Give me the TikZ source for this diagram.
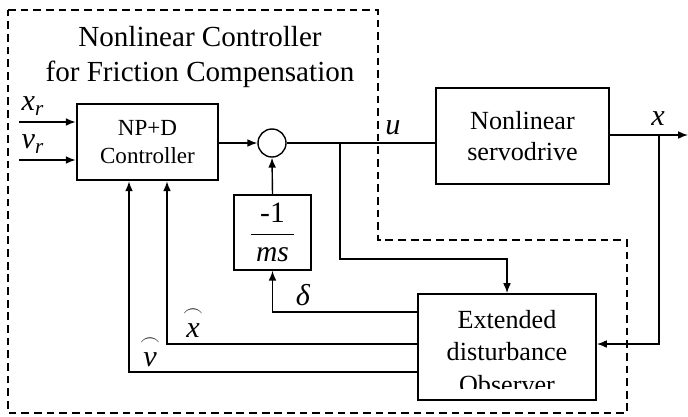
\documentclass[tikz,border=0pt]{standalone}
\usepackage{amsmath}
\usepackage{fontspec}
\setmainfont{Liberation Serif}
\usetikzlibrary{arrows.meta,calc}
\tikzset{
  blk/.style={draw, line width=1.3pt, align=center, inner sep=0pt, font=\fontsize{18.6}{22.5}\selectfont},
  lbl/.style={inner sep=1pt, font=\fontsize{21.5}{24}\selectfont},
  sig/.style={line width=1pt},
  arr/.style={sig, -{Latex[length=7pt,width=5.5pt]}},
  frame/.style={line width=1pt, dash pattern=on 5.5pt off 3.5pt}
}
\newcommand{\arcvar}[1]{\overset{\raisebox{1.5pt}{$\scriptstyle\frown$}}{\textit{#1}}}
\begin{document}
\begin{tikzpicture}[x=0.025cm, y=-0.025cm]
  \useasboundingbox (0,0) rectangle (688,416);

  % Controller boundary
  \draw[frame] (8,10) -- (378,10) -- (378,240) -- (627,240) -- (627,413) -- (8,413) -- cycle;
  \node[font=\fontsize{20.7}{24.8}\selectfont, align=center] (title) at (200,57) {Nonlinear Controller\\for Friction Compensation};

  % Blocks
  \node[blk, line width=1.8pt, minimum width=3.525cm, minimum height=1.9cm, font=\fontsize{16.4}{20}\selectfont] (ctrl) at (147.5,142) {NP+D\\Controller};
  \node[draw, sig, circle, minimum size=0.7cm, inner sep=0pt] (sum) at (272,143) {};
  \node[blk, line width=1pt, minimum width=1.925cm, minimum height=1.875cm, font=\fontsize{21}{24}\selectfont] (gain) at (272.5,232.5) {$\dfrac{\,\mbox{-1}\,}{\,\textit{ms}\,}$};
  \node[blk, minimum width=4.325cm, minimum height=2.4cm] (servo) at (522.5,136) {Nonlinear\\servodrive};
  \node[blk, minimum width=4.45cm, minimum height=2.65cm] (obs) at (507,347) {};
  \begin{scope}
    \clip (obs.north west) rectangle ($(obs.south east)+(0,-12)$);
    \node[align=center, font=\fontsize{18.6}{23}\selectfont] (obstext) at (507,352) {Extended\\disturbance\\Observer};
  \end{scope}

  % Inputs
  \coordinate (xr) at (19,122);
  \coordinate (vr) at (19,160);
  \draw[arr] (xr) -- (xr -| ctrl.west);
  \draw[arr] (vr) -- (vr -| ctrl.west);
  \node[lbl, anchor=south west] (xrlbl) at ($(xr)+(1,-5)$) {$\textit{x}_{\textit{r}}$};
  \node[lbl, anchor=south west] (vrlbl) at ($(vr)+(1,-5)$) {$\textit{v}_{\textit{r}}$};

  % Forward path
  \coordinate (ub) at (340,143);
  \coordinate (xb) at (659,135);
  \coordinate (xout) at (688,135);
  \draw[arr] (sum -| ctrl.east) -- (sum.west);
  \draw[sig] (sum.east) -- (sum.east -| servo.west);
  \draw[arr] (servo.east |- xb) -- (xout);
  \node[lbl] (ulbl) at (393,128) {\textit{u}};
  \node[lbl] (xlbl) at (658,119) {\textit{x}};

  % Feedback
  \draw[arr] (xb) |- ($(obs.east)+(0,-3)$);
  \draw[arr] (ub) |- ($(obs.north)+(0,-34)$) -- (obs.north);
  \draw[arr] (gain.north) -- (sum.south);
  \draw[arr] ($(obs.west)+(0,-35)$) -| (gain.south);
  \draw[arr] ($(obs.west)+(0,-3)$) -| ($(ctrl.south)+(19.5,0)$);
  \draw[arr] ($(obs.west)+(0,25)$) -| ($(ctrl.south)+(-18.5,0)$);
  \node[lbl] (dlbl) at (303,295) {\textit{δ}};
  \node[lbl] (xhlbl) at (193,322) {$\arcvar{x}$};
  \node[lbl] (vhlbl) at (150,351) {$\arcvar{v}$};
\end{tikzpicture}
\end{document}
